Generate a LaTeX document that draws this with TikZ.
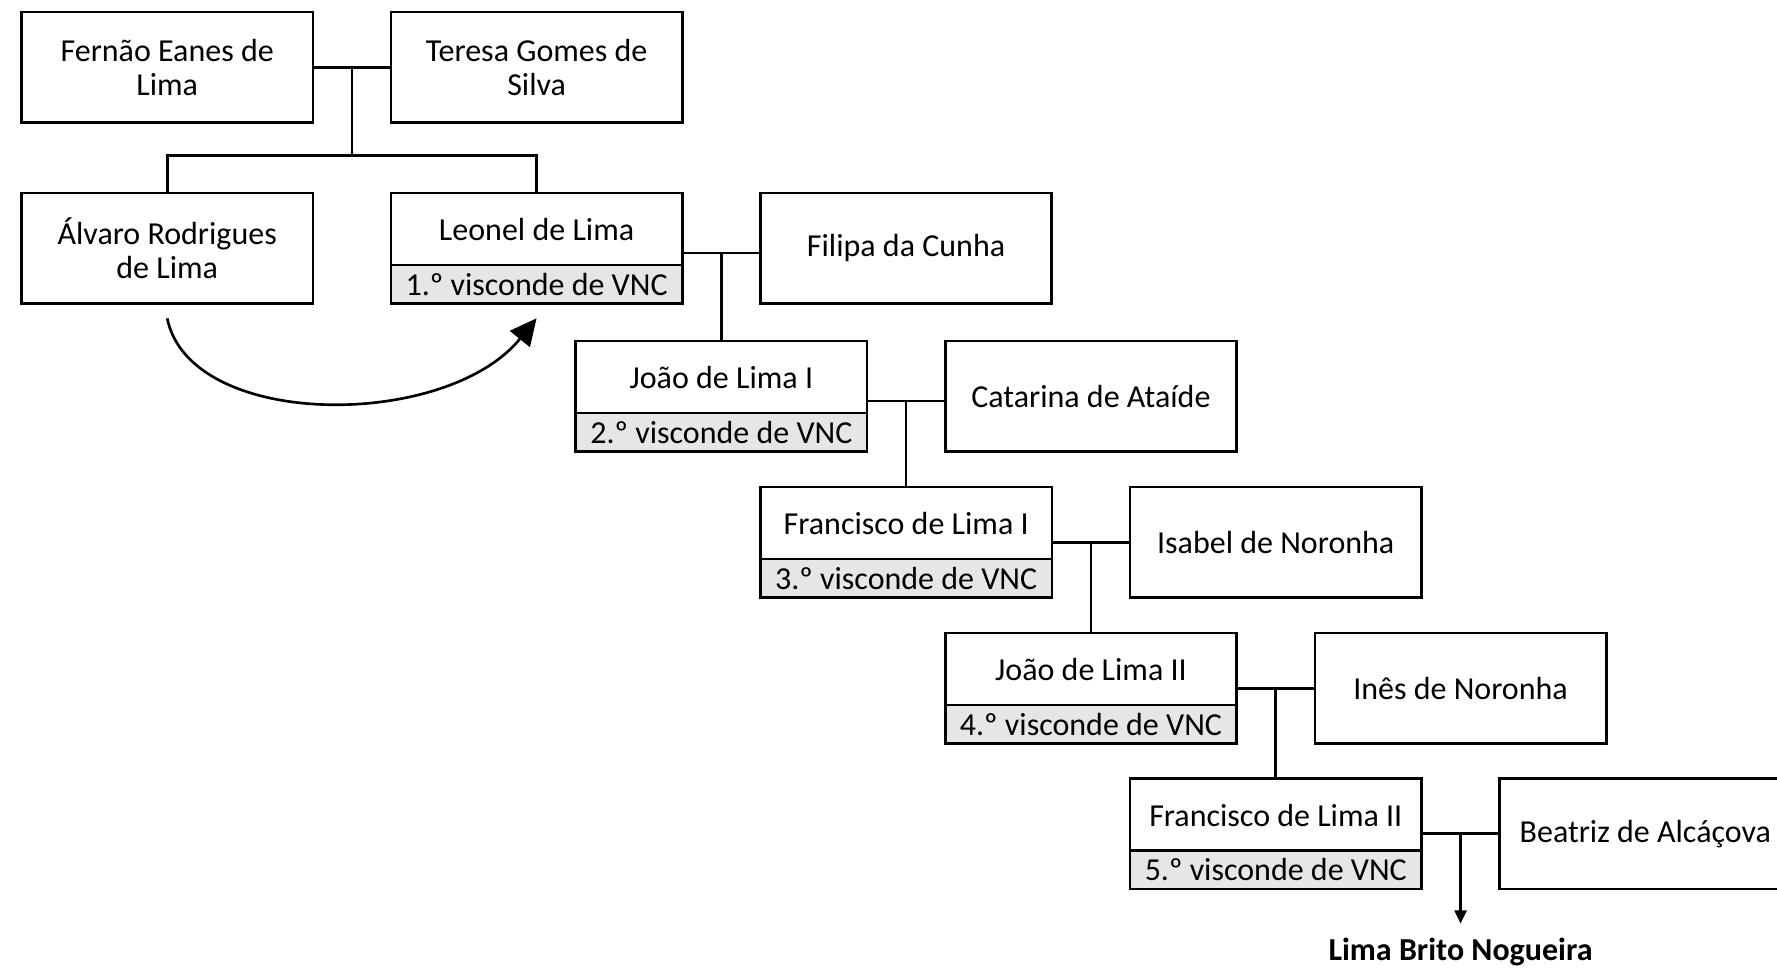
\documentclass[tikz,border=0pt]{standalone}
\usepackage{fontspec}
\setmainfont{Carlito}
\usetikzlibrary{arrows.meta,calc}
\definecolor{titlegrey}{RGB}{231,230,230}
\newcommand{\namefont}{\fontsize{24}{25.4}\selectfont}

\begin{document}
\begin{tikzpicture}[x=0.75pt,y=0.75pt,yscale=-1,xscale=1,
	person/.style={draw, line width=2pt, minimum width=218.5pt, minimum height=83pt, inner sep=0pt, align=center, font=\namefont},
	titlebox/.style={draw, line width=2pt, fill=titlegrey, minimum width=218.5pt, minimum height=29pt, inner sep=0pt, anchor=south, font=\namefont},
	nametext/.style={inner sep=0pt, font=\namefont},
	link/.style={line width=2pt},
	]
	\useasboundingbox (0,0) rectangle (1777,971);
	
	%Shape: Rectangle [first couple]
	\node[person] (fer) at (167.2,67.4) {Fernão Eanes de\\Lima};
	\node[person] (ter) at (536.6,67.4) {Teresa Gomes de\\Silva};
	%Shape: Rectangle [children]
	\node[person] (alv) at (167.2,248.3) {Álvaro Rodrigues\\de Lima};
	\node[person] (leo) at (536.6,248.3) {};
	\node[titlebox] (leot) at (leo.south) {1.º visconde de VNC};
	\node[nametext] (leon) at ([yshift=-14pt]leo.center) {Leonel de Lima};
	\node[person] (fil) at (906.1,248.3) {Filipa da Cunha};
	%Shape: Rectangle [2nd]
	\node[person] (joa1) at (721.4,396.3) {};
	\node[titlebox] (joa1t) at (joa1.south) {2.º visconde de VNC};
	\node[nametext] (joa1n) at ([yshift=-14pt]joa1.center) {João de Lima I};
	\node[person] (cat) at (1090.9,396.3) {Catarina de Ataíde};
	%Shape: Rectangle [3rd]
	\node[person] (fra1) at (906.2,542.3) {};
	\node[titlebox] (fra1t) at (fra1.south) {3.º visconde de VNC};
	\node[nametext] (fra1n) at ([yshift=-14pt]fra1.center) {Francisco de Lima I};
	\node[person] (isa) at (1275.7,542.3) {Isabel de Noronha};
	%Shape: Rectangle [4th]
	\node[person] (joa2) at (1091.0,688.2) {};
	\node[titlebox] (joa2t) at (joa2.south) {4.º visconde de VNC};
	\node[nametext] (joa2n) at ([yshift=-14pt]joa2.center) {João de Lima II};
	\node[person] (ine) at (1460.5,688.2) {Inês de Noronha};
	%Shape: Rectangle [5th]
	\node[person] (fra2) at (1275.8,833.8) {};
	\node[titlebox] (fra2t) at (fra2.south) {5.º visconde de VNC};
	\node[nametext] (fra2n) at ([yshift=-14pt]fra2.center) {Francisco de Lima II};
	\node[person] (bea) at (1645.3,833.8) {Beatriz de Alcáçova};
	
	%Straight Lines [couples]
	\coordinate (e1) at ([yshift=3.4pt]leo.east);
	\coordinate (w1) at ([yshift=3.4pt]fil.west);
	\coordinate (e2) at ([yshift=3.4pt]joa1.east);
	\coordinate (w2) at ([yshift=3.4pt]cat.west);
	\draw[link] (fer.east) -- (ter.west);
	\draw[link] (e1) -- (w1);
	\draw[link] (e2) -- (w2);
	\draw[link] (fra1.east) -- (isa.west);
	\draw[link] (joa2.east) -- (ine.west);
	\draw[link] (fra2.east) -- (bea.west);
	
	%Straight Lines [descent]
	\coordinate (m0) at ($(fer.east)!0.5!(ter.west)$);
	\coordinate (j0) at (m0 |- 0,155.3);
	\draw[link] (m0) -- (j0);
	\draw[link] (alv.north) |- (j0) -| (leo.north);
	\coordinate (m1) at ($(e1)!0.5!(w1)$);
	\draw[link] (m1) -- (m1 |- joa1.north);
	\coordinate (m2) at ($(e2)!0.5!(w2)$);
	\draw[link] (m2) -- (m2 |- fra1.north);
	\coordinate (m3) at ($(fra1.east)!0.5!(isa.west)$);
	\draw[link] (m3) -- (m3 |- joa2.north);
	\coordinate (m4) at ($(joa2.east)!0.5!(ine.west)$);
	\draw[link] (m4) -- (m4 |- fra2.north);
	\coordinate (m5) at ($(fra2.east)!0.5!(bea.west)$);
	\coordinate (m5e) at (m5 |- 0,923.6);
	\draw[link, -{Triangle[length=10pt,width=9pt]}] (m5) -- (m5e);
	
	% Text Node
	\node[nametext, font=\namefont\bfseries] (lbn) at (1460.5,952) {Lima Brito Nogueira};
	
	%Curve Lines [succession]
	\coordinate (alvc) at ([yshift=10pt]alv.south);
	\coordinate (leoc) at ([yshift=10pt]leo.south);
	\draw[link, -{Triangle[length=20pt,width=19pt]}] (alvc) .. controls (190,430) and (446,430) .. (leoc);
	
\end{tikzpicture}
\end{document}
